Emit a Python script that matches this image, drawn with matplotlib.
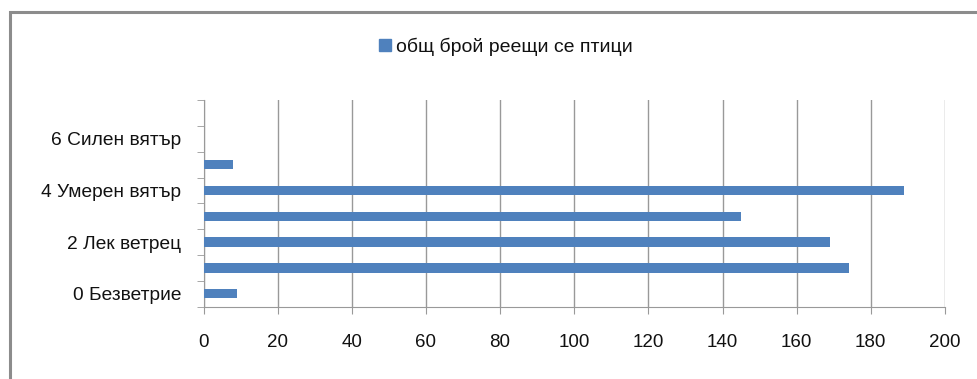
import numpy as np
import matplotlib.pyplot as plt
from matplotlib.patches import Rectangle, Patch

# wind strength classes (only the even ones carry a label)
categories = ["0 Безветрие", "", "2 Лек ветрец", "", "4 Умерен вятър", "", "6 Силен вятър", ""]
birds_total = [9, 174, 169, 145, 189, 8, 0, 0]
x_ticks = [0, 20, 40, 60, 80, 100, 120, 140, 160, 180, 200]
series_name = "общ брой реещи се птици"

plt.rcParams['font.family'] = ['Liberation Sans', 'DejaVu Sans']

fig = plt.figure(figsize=(9.77, 3.79), dpi=100)
ax = fig.add_axes([0.2083, 0.1908, 0.7589, 0.5453])

# outer chart frame
fig.patches.append(Rectangle((10 / 977, -0.1), 1.2, 1 - 12 / 379 + 0.1,
                             transform=fig.transFigure, fill=False,
                             edgecolor='#8c8c8c', linewidth=2.2))

pos = np.arange(len(birds_total))
ax.barh(pos, birds_total, height=0.36, color='#4F81BD', zorder=3)

ax.set_xlim(0, 200)
ax.set_ylim(-0.5, len(birds_total) - 0.5)
ax.set_xticks(x_ticks)
ax.set_xticklabels([str(t) for t in x_ticks], fontsize=13.5)

ax.set_yticks(pos[::2])
ax.set_yticklabels(categories[::2], fontsize=13.8)
ax.set_yticks(np.arange(-0.5, len(birds_total)), minor=True)
ax.tick_params(axis='y', which='major', length=0, pad=16, labelcolor='#111111')
ax.tick_params(axis='y', which='minor', length=5, color='#999999', direction='out')
ax.tick_params(axis='x', length=5, color='#999999', direction='out', pad=15,
               labelcolor='#111111')

ax.grid(axis='x', color='#999999', linewidth=1, zorder=0)
for s in ['top', 'right']:
    ax.spines[s].set_visible(False)
for s in ['left', 'bottom']:
    ax.spines[s].set_color('#999999')

fig.legend(handles=[Patch(color='#4F81BD', label=series_name)],
           loc='center', bbox_to_anchor=(0.518, 1 - 47 / 379), frameon=False,
           fontsize=14, handlelength=0.6, handleheight=0.6, handletextpad=0.3,
           labelcolor='#111111')

fig.savefig('out.png', dpi=100)
